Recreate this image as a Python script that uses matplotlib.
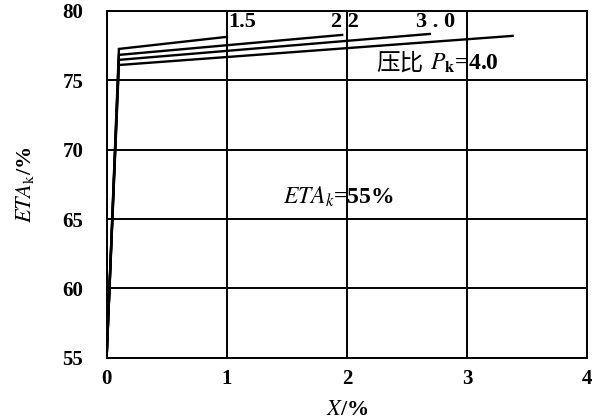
import matplotlib.pyplot as plt

plt.rcParams['font.family'] = ['Liberation Serif', 'DejaVu Serif']
plt.rcParams['mathtext.fontset'] = 'stix'

# pressure ratios and their efficiency curves (X in %, ETA_k in %)
ratios = ['1.5', '2.2', '3.0', '4.0']
x_start = [0.0, 0.0, 0.0, 0.0]
x_knee = [0.1, 0.1, 0.1, 0.1]
x_end = [1.0, 1.96, 2.69, 3.38]
eta_start = [55.5, 55.5, 55.5, 55.5]
eta_knee = [77.26, 76.83, 76.47, 76.1]
eta_end = [78.13, 78.27, 78.34, 78.2]

xticks = [0, 1, 2, 3, 4]
yticks = [55, 60, 65, 70, 75, 80]

fig = plt.figure(figsize=(6.04, 4.19), dpi=100)
ax = fig.add_axes([0.177, 0.146, 0.795, 0.828])

for i in range(len(ratios)):
    ax.plot([x_start[i], x_knee[i], x_end[i]],
            [eta_start[i], eta_knee[i], eta_end[i]],
            color='black', lw=1.7, solid_joinstyle='miter')

ax.set_xlim(0, 4)
ax.set_ylim(55, 80)
ax.set_xticks(xticks)
ax.set_yticks(yticks)
ax.set_xticklabels([str(v) for v in xticks], fontsize=15, fontweight='bold')
ax.set_yticklabels([str(v) for v in yticks], fontsize=15, fontweight='bold')
ax.tick_params(axis='x', length=0, pad=8)
ax.tick_params(axis='y', length=0, pad=17)
ax.grid(True, color='black', lw=1.4)
for s in ax.spines.values():
    s.set_linewidth(1.4)

# curve labels (wide letter spacing)
ax.text(1.13, 78.5, '1.5', fontsize=16, fontweight='bold', ha='center', va='bottom')
ax.text(1.98, 78.5, '2 2', fontsize=16, fontweight='bold', ha='center', va='bottom')
ax.text(2.74, 78.5, '3 . 0', fontsize=16, fontweight='bold', ha='center', va='bottom')
ax.text(2.24, 76.25, '压比', fontsize=17, ha='left', va='center',
        family=['Noto Sans CJK SC', 'DejaVu Sans'])
ax.text(2.69, 76.25, r'$P_\mathbf{k}$=4.0', fontsize=17, fontweight='bold',
        ha='left', va='center')
ax.text(1.47, 66.6, r'$ETA_k$=55%', fontsize=17, fontweight='bold',
        ha='left', va='center')

ax.set_xlabel(r'$X$/%', fontsize=16, fontweight='bold', labelpad=8)
ax.set_ylabel(r'$ETA_\mathrm{k}$/%', fontsize=16, fontweight='bold', labelpad=19)

fig.savefig('out.png', dpi=100)
